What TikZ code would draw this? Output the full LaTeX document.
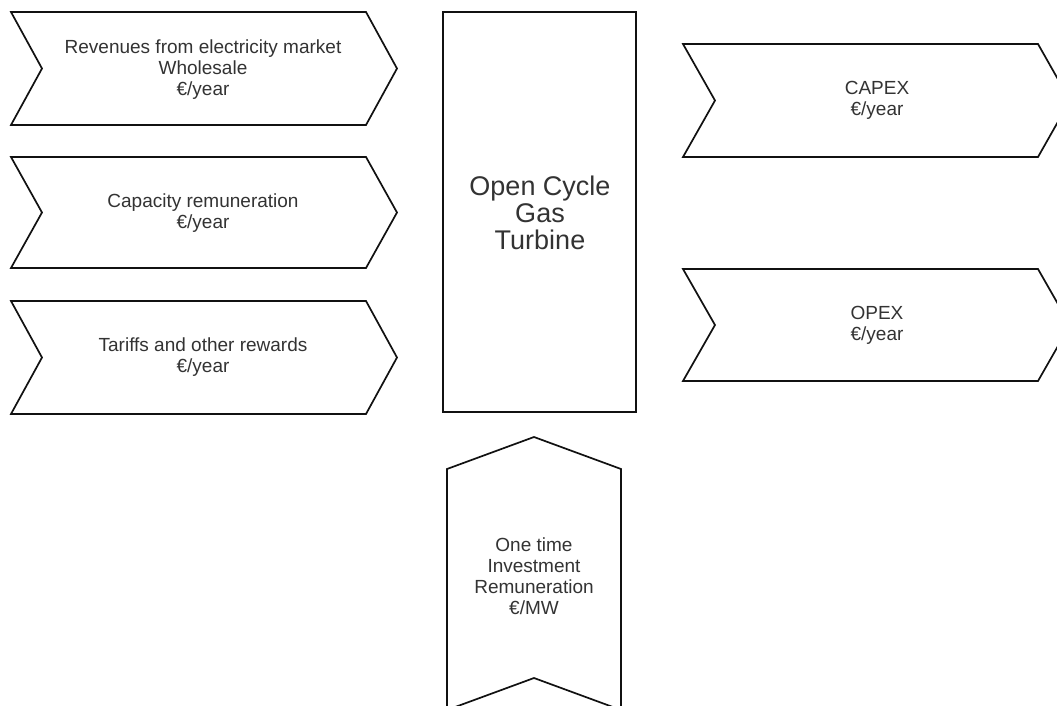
\documentclass[tikz,border=0pt]{standalone}
\usepackage{fontspec}
\setmainfont{Liberation Sans}
\definecolor{ink}{HTML}{111111}
\definecolor{txt}{HTML}{333333}
% horizontal chevron: left x, top y, body right x, bottom y, notch depth
\newcommand\hchevron[5]{%
  \draw[shapeline] (#1,#2) -- (#3,#2) -- ({#3+#5},{(#2+#4)/2}) -- (#3,#4)
    -- (#1,#4) -- ({#1+#5},{(#2+#4)/2}) -- cycle;}
\begin{document}
\begin{tikzpicture}[x=1pt,y=-1pt,
  shapeline/.style={draw=ink, line width=1.7pt, line join=miter, fill=white},
  lbl/.style={text=txt, align=center, inner sep=0pt,
    font=\fontsize{19}{21}\selectfont},
  biglbl/.style={text=txt, align=center, inner sep=0pt,
    font=\fontsize{27}{27}\selectfont}]
\clip (0,0) rectangle (1057,706);
\fill[white] (0,0) rectangle (1057,706);

% revenue streams
\hchevron{11}{12}{366}{125}{31}
\node[lbl] (rev) at (203,70) {Revenues from electricity market\\Wholesale\\€/year};
\hchevron{11}{157}{366}{268}{31}
\node[lbl] (cap) at (203,213) {Capacity remuneration\\€/year};
\hchevron{11}{301}{366}{414}{31}
\node[lbl] (tar) at (203,357) {Tariffs and other rewards\\€/year};

% the plant
\draw[shapeline] (443,12) rectangle (636,412);
\node[biglbl] (ocgt) at (540,213) {Open Cycle\\Gas\\Turbine};

% costs
\hchevron{683}{44}{1038}{157}{32}
\node[lbl] (capex) at (877,100) {CAPEX\\€/year};
\hchevron{683}{269}{1038}{381}{32}
\node[lbl] (opex) at (877,325) {OPEX\\€/year};

% investment remuneration
\draw[shapeline] (447,469) -- (534,437) -- (621,469) -- (621,710)
  -- (534,678) -- (447,710) -- cycle;
\node[lbl] (inv) at (534,576) {One time\\Investment\\Remuneration\\€/MW};
\end{tikzpicture}
\end{document}
